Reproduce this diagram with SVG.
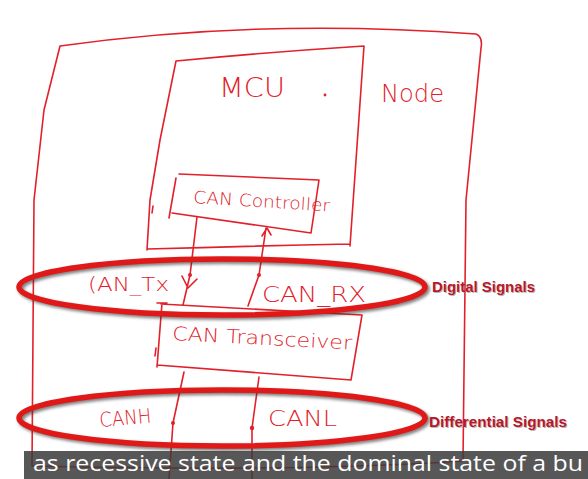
<svg xmlns="http://www.w3.org/2000/svg" width="588" height="479" viewBox="0 0 588 479">
<defs>
<filter id="sh" x="-10%" y="-40%" width="120%" height="180%"><feGaussianBlur stdDeviation="1.6"/></filter>
<style>
.ln{fill:none;stroke:#e2202a;stroke-width:1.6;stroke-linecap:round;stroke-linejoin:round}
.hw{font-family:"DejaVu Sans",sans-serif;font-weight:200;fill:#e2202a}
.lbl{font-family:"Liberation Sans",Arial,sans-serif;font-weight:bold;font-size:15px;fill:#b8172b}
.lsh{font-family:"Liberation Sans",Arial,sans-serif;font-weight:bold;font-size:15px;fill:#888;opacity:.6}
.ell{fill:none;stroke:#e01818;stroke-width:5.5}
.ellsh{fill:none;stroke:#333;stroke-width:6;opacity:.6}
</style>
</defs>
<rect width="588" height="479" fill="#ffffff"/>
<g id="node-outer">
<path class="ln" d="M60,46 Q260,18 476,34 Q483,37 481,48 L466,200 L463,461 Q300,472 33,466 M60,46 L44,110 L34,200 L32,466"/>
<text class="hw" x="381" y="102" font-size="25" textLength="63" lengthAdjust="spacingAndGlyphs">Node</text>
</g>
<g id="node-mcu">
<path class="ln" d="M176,61 Q270,52 364,46 L350,246 M147,249 Q250,246 350,244 M176,61 L160,140 L150,200 L147,250 M153,206 L152,213"/>
<text class="hw" x="219" y="97" font-size="27" textLength="66" lengthAdjust="spacingAndGlyphs">MCU</text>
<circle cx="325" cy="95" r="1.4" fill="#e2202a"/>
</g>
<g id="node-controller">
<path class="ln" d="M179,174 L319,180 L311,233 L172,213 M176,178 L169,218"/>
<text class="hw" x="193" y="203" font-size="17" textLength="137" lengthAdjust="spacingAndGlyphs" transform="rotate(3.5 193 203)">CAN Controller</text>
</g>
<g id="node-transceiver">
<path class="ln" d="M157,303 L167,303 M161,304 L362,315 L351,380 L157,365 M162,303 L157,367 M156,348 L155,356"/>
<text class="hw" x="172" y="340" font-size="19" textLength="180" lengthAdjust="spacingAndGlyphs" transform="rotate(3 172 340)">CAN Transceiver</text>
</g>
<g id="connectors">
<path class="ln" d="M197,217 L190,275 L183,305 M182,276 L188,288 L197,279"/>
<circle cx="190" cy="275" r="2" fill="#e2202a"/>
<path class="ln" d="M248,306 L259,275 L266,228 M262,236 L267,228 L271,235"/>
<circle cx="259" cy="275" r="2" fill="#e2202a"/>
<path class="ln" d="M184,372 L173,423 L169,479"/>
<circle cx="173" cy="423" r="2" fill="#e2202a"/>
<path class="ln" d="M259,377 L252,428 L252,479"/>
<circle cx="252" cy="428" r="2.2" fill="#e2202a"/>
</g>
<g id="digital-signals">
<ellipse class="ellsh" cx="224" cy="289" rx="203" ry="28" filter="url(#sh)"/>
<ellipse class="ell" cx="222" cy="287" rx="203" ry="28"/>
<text class="hw" x="88" y="291" font-size="20" textLength="81" lengthAdjust="spacingAndGlyphs">(AN_Tx</text>
<text class="hw" x="262" y="302" font-size="21" textLength="104" lengthAdjust="spacingAndGlyphs">CAN_RX</text>
<text class="lsh" x="433" y="293" textLength="103" lengthAdjust="spacingAndGlyphs">Digital Signals</text>
<text class="lbl" x="432" y="292" textLength="103" lengthAdjust="spacingAndGlyphs">Digital Signals</text>
</g>
<g id="differential-signals">
<ellipse class="ellsh" cx="224" cy="420" rx="203" ry="28" filter="url(#sh)"/>
<ellipse class="ell" cx="222" cy="418" rx="203" ry="28"/>
<text class="hw" x="100" y="427" font-size="20" textLength="52" lengthAdjust="spacingAndGlyphs" transform="rotate(-5 100 427)">CANH</text>
<text class="hw" x="268" y="426" font-size="21" textLength="69" lengthAdjust="spacingAndGlyphs">CANL</text>
<text class="lsh" x="430" y="428" textLength="138" lengthAdjust="spacingAndGlyphs">Differential Signals</text>
<text class="lbl" x="429" y="427" textLength="138" lengthAdjust="spacingAndGlyphs">Differential Signals</text>
</g>
<g id="caption">
<rect x="24" y="451" width="564" height="28" fill="#3a3a3a" opacity="0.85"/>
<text x="33" y="471" font-family="'Open Sans','Noto Sans',sans-serif" font-size="21" fill="#ffffff" textLength="550" lengthAdjust="spacingAndGlyphs">as recessive state and the dominal state of a bu</text>
</g>
</svg>
